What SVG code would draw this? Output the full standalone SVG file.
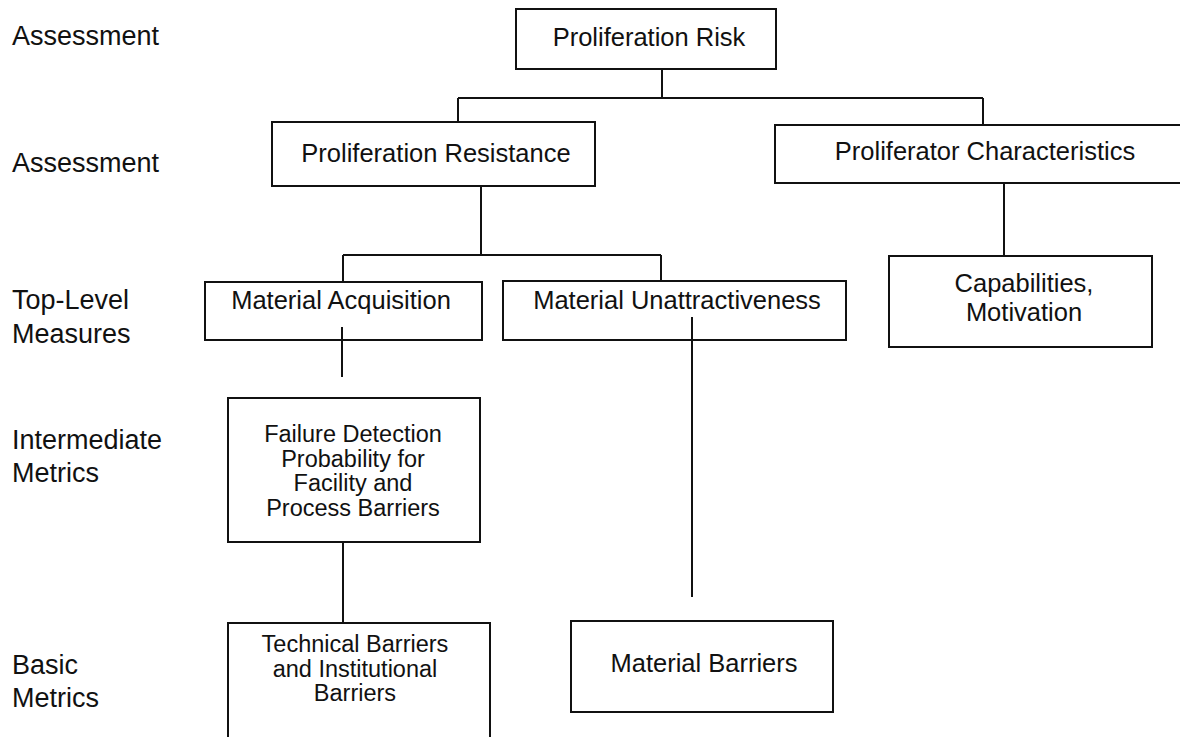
<svg xmlns="http://www.w3.org/2000/svg" width="1180" height="737" viewBox="0 0 1180 737">
<style>
.box{fill:none;stroke:#111;stroke-width:2}
.t{font-family:"Liberation Sans",Arial,sans-serif;font-size:25.5px;fill:#111;text-anchor:middle}
.m{font-family:"Liberation Sans",Arial,sans-serif;font-size:23.5px;fill:#111;text-anchor:middle}
.lbl{font-family:"Liberation Sans",Arial,sans-serif;font-size:27px;fill:#111}
.c{fill:none;stroke:#111;stroke-width:2}
</style>
<rect width="1180" height="737" fill="#fff"/>
<g id="levels">
<text class="lbl" x="12" y="45">Assessment</text>
<text class="lbl" x="12" y="172">Assessment</text>
<text class="lbl" x="12" y="309">Top-Level</text>
<text class="lbl" x="12" y="343">Measures</text>
<text class="lbl" x="12" y="449">Intermediate</text>
<text class="lbl" x="12" y="482">Metrics</text>
<text class="lbl" x="12" y="674">Basic</text>
<text class="lbl" x="12" y="707">Metrics</text>
</g>
<g id="connectors">
<path class="c" d="M662 69V98M458 98H983M458 98V122M983 98V125"/>
<path class="c" d="M481 186V255M343 255H661M343 255V282M661 255V281"/>
<path class="c" d="M1004 183V256"/>
<path class="c" d="M342 327V377"/>
<path class="c" d="M692 317V597"/>
<path class="c" d="M343 542V623"/>
</g>
<g id="n-risk">
<rect class="box" x="516" y="9" width="260" height="60"/>
<text class="t" x="649" y="46">Proliferation Risk</text>
</g>
<g id="n-resistance">
<rect class="box" x="272" y="122" width="323" height="64"/>
<text class="t" x="436" y="162">Proliferation Resistance</text>
</g>
<g id="n-proliferator">
<rect class="box" x="775" y="125" width="410" height="58"/>
<text class="t" x="985" y="160">Proliferator Characteristics</text>
</g>
<g id="n-acquisition">
<rect class="box" x="205" y="282" width="277" height="58"/>
<text class="t" x="341" y="309">Material Acquisition</text>
</g>
<g id="n-unattractiveness">
<rect class="box" x="503" y="281" width="343" height="59"/>
<text class="t" x="677" y="309">Material Unattractiveness</text>
</g>
<g id="n-capabilities">
<rect class="box" x="889" y="256" width="263" height="91"/>
<text class="t" x="1024" y="292">Capabilities,</text>
<text class="t" x="1024" y="321">Motivation</text>
</g>
<g id="n-failure">
<rect class="box" x="228" y="398" width="252" height="144"/>
<text class="m" x="353" y="442">Failure Detection</text>
<text class="m" x="353" y="466.5">Probability for</text>
<text class="m" x="353" y="491">Facility and</text>
<text class="m" x="353" y="515.5">Process Barriers</text>
</g>
<g id="n-technical">
<rect class="box" x="228" y="623" width="262" height="116"/>
<text class="m" x="355" y="652">Technical Barriers</text>
<text class="m" x="355" y="676.5">and Institutional</text>
<text class="m" x="355" y="701">Barriers</text>
</g>
<g id="n-material">
<rect class="box" x="571" y="621" width="262" height="91"/>
<text class="t" x="704" y="672">Material Barriers</text>
</g>
</svg>
